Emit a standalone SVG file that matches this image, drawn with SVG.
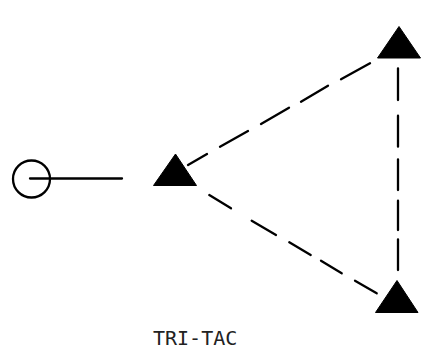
<svg xmlns="http://www.w3.org/2000/svg" width="425" height="349" viewBox="0 0 425 349">
<style>
.tri{fill:#000;stroke:#000;stroke-width:1;stroke-linejoin:miter}
.ln{fill:none;stroke:#000;stroke-width:2.3;stroke-linecap:round}
.lbl{font-family:"DejaVu Sans Mono","Liberation Mono",monospace;font-size:20px;fill:#222}
</style>
<rect width="425" height="349" fill="#fff"/>
<g id="terminal">
<circle cx="31.5" cy="179" r="18.5" fill="none" stroke="#000" stroke-width="2.3"/>
</g>
<g id="node-left"><polygon class="tri" points="175.5,154 153.5,185.5 196.5,185.5"/></g>
<g id="node-top"><polygon class="tri" points="399,26.5 377.5,58 420.5,58"/></g>
<g id="node-bottom"><polygon class="tri" points="397,280.5 375.5,312.5 418,312.5"/></g>
<g id="connectors">
<path class="ln" d="M30,178.5 L122,178.5"/>
<path class="ln" d="M188,165 L207,154 M220,146.7 L248,131 M261,124 L289,107.7 M301,101.7 L328,85.7 M341,79.3 L370,63.3"/>
<path class="ln" d="M209.3,195 L231,208.3 M251.7,220.7 L276,235 M289.3,242.3 L310.7,255 M321,260.7 L341.7,273.3 M355,280.7 L376.7,293.3"/>
<path class="ln" d="M398,68.3 L398,100 M398,115.7 L398,146.7 M398,159.3 L398,190 M398,200.7 L398,230 M398,239.3 L398,270"/>
</g>
<text class="lbl" x="153" y="345">TRI-TAC</text>
</svg>
